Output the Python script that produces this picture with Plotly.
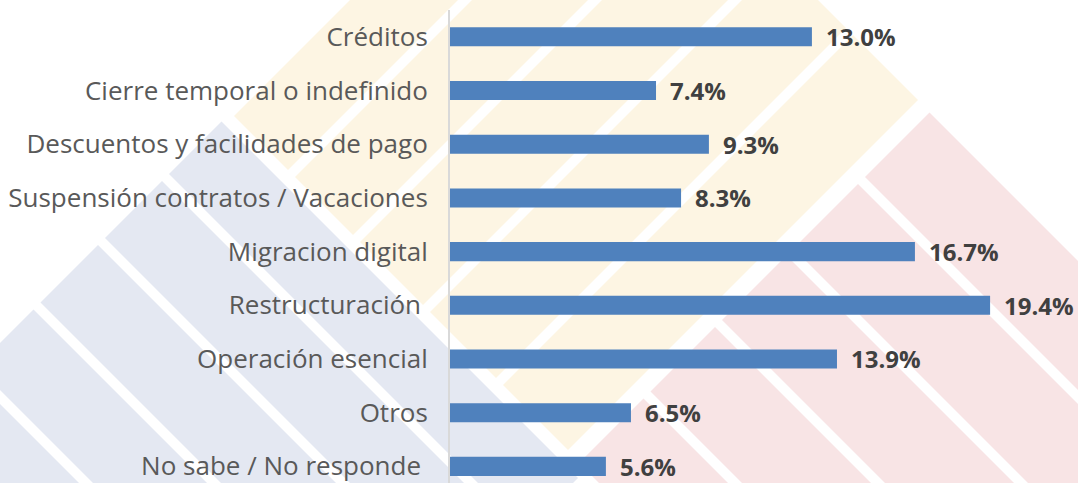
import plotly.graph_objects as go

categories = [
    "Créditos",
    "Cierre temporal o indefinido",
    "Descuentos y facilidades de pago",
    "Suspensión contratos / Vacaciones",
    "Migracion digital",
    "Restructuración ",
    "Operación esencial",
    "Otros",
    "No sabe / No responde ",
]
values = [13.0, 7.4, 9.3, 8.3, 16.7, 19.4, 13.9, 6.5, 5.6]
value_labels = [f"{v:.1f}%" for v in values]

W, H = 1078, 483
ML, MR, MT, MB = 450, 0, 10, 0
PW, PH = W - ML - MR, H - MT - MB


def to_paper(px, py):
    return (px - ML) / PW, (H - MB - py) / PH


def band(s0, s1, t0, t1):
    # s = x + y, t = x - y (pixel space, y down)
    pts = [(s0, t0), (s0, t1), (s1, t1), (s1, t0)]
    path = ""
    for i, (s, t) in enumerate(pts):
        x, y = (s + t) / 2, (s - t) / 2
        px, py = to_paper(x, y)
        path += ("M" if i == 0 else "L") + f"{px:.5f},{py:.5f} "
    return path + "Z"


shapes = []
YEL, BLU, PNK, GRN = "#FDF5E3", "#E4E8F2", "#F8E4E5", "#E6F1E6"
for s0, s1 in [(350, 458), (472, 588), (602, 728), (742, 874), (888, 1018)]:
    shapes.append(dict(type="path", path=band(s0, s1, 118, 818), fillcolor=YEL, line_width=0, layer="below", xref="paper", yref="paper"))
for t0, t1 in [(-5, 100), (-133, -19), (-262, -147), (-390, -276), (-519, -404), (-647, -533)]:
    shapes.append(dict(type="path", path=band(343, 1056, t0, t1), fillcolor=BLU, line_width=0, layer="below", xref="paper", yref="paper"))
for t0, t1 in [(688, 817), (545, 674), (402, 531), (259, 388), (116, 245)]:
    shapes.append(dict(type="path", path=band(1042, 1700, t0, t1), fillcolor=PNK, line_width=0, layer="below", xref="paper", yref="paper"))
shapes.append(dict(type="path", path=band(1072, 1400, -20, 100), fillcolor=GRN, line_width=0, layer="below", xref="paper", yref="paper"))

fig = go.Figure(
    go.Bar(
        y=categories,
        x=values,
        orientation="h",
        marker=dict(color="#4F81BD", line=dict(width=0)),
        width=0.355,
        hoverinfo="skip",
    )
)

annotations = [
    dict(x=v, y=c, text=f"<b>{t}</b>", xref="x", yref="y", xanchor="left", yanchor="middle",
         xshift=12, showarrow=False, font=dict(family="Open Sans", size=24, color="#404040"))
    for c, v, t in zip(categories, values, value_labels)
]

fig.update_layout(
    width=W, height=H,
    margin=dict(l=ML, r=MR, t=MT, b=MB, pad=0),
    paper_bgcolor="white",
    plot_bgcolor="rgba(0,0,0,0)",
    showlegend=False,
    shapes=shapes,
    annotations=annotations,
    xaxis=dict(range=[0, PW / 27.84], showgrid=False, zeroline=False, showticklabels=False, showline=False),
    yaxis=dict(
        type="category",
        categoryorder="array",
        categoryarray=categories,
        range=[8.31, -0.5],
        showgrid=False,
        zeroline=False,
        showline=True,
        linecolor="#D9D9D9",
        linewidth=2,
        ticks="",
        ticklabelstandoff=15,
        automargin=False,
        tickfont=dict(family="Open Sans", size=26, color="#595959"),
    ),
)

fig.write_html(
    "out.html",
    config={"displayModeBar": False},
    post_script="document.body.style.margin='0';document.body.style.overflow='hidden';",
)
